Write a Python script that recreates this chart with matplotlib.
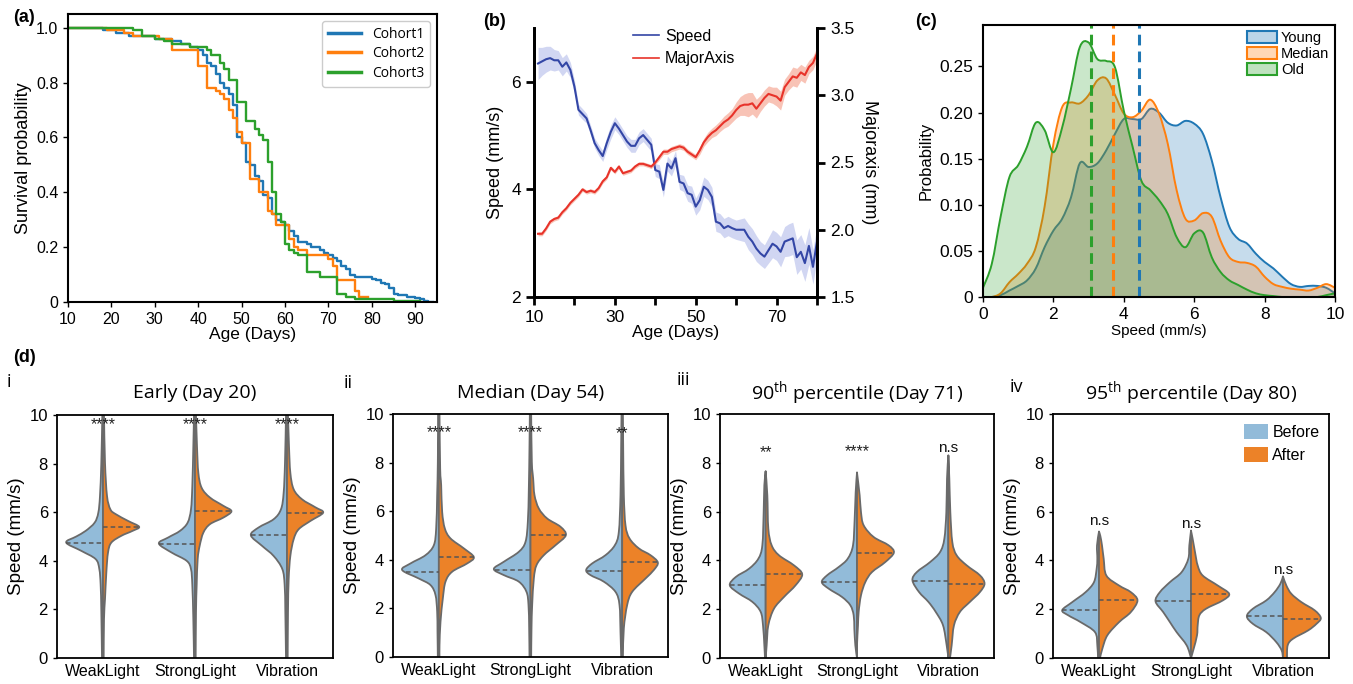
import numpy as np
import matplotlib
matplotlib.use("Agg")
import matplotlib.pyplot as plt
from matplotlib.path import Path
from matplotlib.patches import PathPatch, Patch
from matplotlib.lines import Line2D

plt.rcParams['font.family'] = ['Liberation Sans', 'DejaVu Sans']
plt.rcParams['mathtext.fontset'] = 'custom'
plt.rcParams['mathtext.rm'] = 'Open Sans'

# ---------------- (a) survival curves ----------------
c1_days = [10,18,21,24,30,34,36,38,40,41,42,43,44,45,46,47,48,49,50,51,52,53,54,55,56,57,58,59,60,61,62,63,65,66,68,69,70,71,72,73,74,75,76,80,81,82,83,84,85,86,88,90,91,92,93,94]
c1_surv = [1.0,0.99,0.98,0.97,0.96,0.95,0.94,0.93,0.92,0.90,0.87,0.86,0.83,0.80,0.78,0.76,0.72,0.60,0.58,0.51,0.50,0.46,0.44,0.39,0.38,0.32,0.30,0.29,0.28,0.26,0.24,0.22,0.21,0.20,0.19,0.18,0.17,0.16,0.15,0.13,0.12,0.10,0.09,0.085,0.08,0.07,0.065,0.05,0.03,0.025,0.02,0.015,0.01,0.005,0.0,0.0]
c2_days = [10,19,23,25,31,34,40,42,44,45,46,47,48,49,50,52,54,56,57,58,61,62,63,65,70,71,72,76,77,79]
c2_surv = [1.0,0.99,0.98,0.97,0.96,0.92,0.86,0.78,0.77,0.76,0.74,0.70,0.67,0.62,0.58,0.45,0.40,0.33,0.32,0.28,0.23,0.20,0.19,0.17,0.155,0.13,0.08,0.04,0.02,0.02]
c3_days = [10,25,27,30,32,34,38,42,43,45,46,47,49,51,53,54,55,56,57,58,59,60,61,62,63,65,68,72,74,76,85,91]
c3_surv = [1.0,0.99,0.97,0.96,0.95,0.94,0.93,0.92,0.90,0.87,0.85,0.81,0.73,0.66,0.63,0.61,0.59,0.51,0.40,0.32,0.29,0.21,0.19,0.18,0.17,0.11,0.09,0.03,0.02,0.01,0.005,0.005]
cohort_names = ['Cohort1', 'Cohort2', 'Cohort3']

# ---------------- (b) speed and major axis vs age ----------------
age_days = np.arange(11, 81)
speed_mean = [6.34,6.38,6.42,6.44,6.40,6.40,6.28,6.36,6.22,5.91,5.48,5.40,5.32,5.10,4.86,4.73,4.62,4.86,5.07,5.23,
              5.13,5.01,4.89,4.81,4.81,4.95,5.01,4.92,4.83,4.36,4.33,3.99,4.48,4.39,4.58,4.14,4.11,3.93,3.90,3.68,
              3.80,4.05,3.99,3.86,3.40,3.37,3.28,3.32,3.28,3.25,3.25,3.25,3.12,3.03,2.90,2.81,2.75,2.87,2.99,2.94,
              2.84,3.03,3.06,3.09,2.74,2.84,2.63,2.95,2.56,3.03]
speed_sem = [0.30,0.26,0.24,0.22,0.20,0.18,0.17,0.16,0.14,0.12,0.10,0.10,0.09,0.09,0.09,0.10,0.10,0.12,0.13,0.12,
             0.11,0.11,0.11,0.12,0.12,0.12,0.12,0.12,0.12,0.12,0.13,0.13,0.14,0.14,0.14,0.14,0.15,0.15,0.16,0.16,
             0.18,0.18,0.18,0.18,0.18,0.18,0.18,0.18,0.18,0.18,0.20,0.22,0.24,0.24,0.24,0.22,0.22,0.24,0.26,0.26,
             0.28,0.28,0.30,0.30,0.32,0.32,0.34,0.34,0.32,0.30]
major_mean = [1.97,1.97,2.01,2.06,2.08,2.09,2.13,2.16,2.20,2.23,2.26,2.30,2.28,2.29,2.28,2.31,2.36,2.39,2.46,2.43,
              2.47,2.42,2.43,2.44,2.47,2.49,2.49,2.48,2.47,2.50,2.54,2.58,2.58,2.60,2.61,2.62,2.61,2.58,2.56,2.54,
              2.59,2.65,2.69,2.72,2.74,2.77,2.80,2.82,2.85,2.89,2.92,2.93,2.93,2.94,2.90,2.94,2.98,3.01,3.00,2.99,
              2.96,3.06,3.10,3.14,3.13,3.17,3.15,3.21,3.24,3.31]
major_sem = [0.015,0.015,0.015,0.015,0.015,0.015,0.015,0.015,0.015,0.015,
             0.015,0.015,0.015,0.015,0.015,0.015,0.015,0.015,0.015,0.015,
             0.015,0.015,0.015,0.015,0.015,0.015,0.015,0.015,0.015,0.015,
             0.02,0.02,0.02,0.02,0.02,0.02,0.02,0.02,0.02,0.02,
             0.03,0.03,0.035,0.035,0.04,0.04,0.045,0.05,0.05,0.06,
             0.07,0.08,0.09,0.08,0.07,0.06,0.06,0.06,0.06,0.07,
             0.07,0.06,0.06,0.07,0.07,0.06,0.06,0.05,0.05,0.05]

# ---------------- (c) speed distributions ----------------
speed_grid = np.arange(0, 10.001, 0.25)
young_density = [0,0,0.002,0.007,0.012,0.018,0.031,0.054,0.072,0.085,0.108,0.145,0.141,0.145,0.159,0.177,0.193,0.193,0.193,0.204,
                 0.200,0.189,0.186,0.191,0.188,0.177,0.148,0.108,0.076,0.063,0.058,0.047,0.038,0.031,0.022,0.014,0.011,0.012,0.012,0.010,0.004]
median_density = [0,0,0.004,0.016,0.025,0.036,0.054,0.098,0.166,0.206,0.211,0.210,0.219,0.235,0.237,0.219,0.199,0.195,0.202,0.214,
                  0.199,0.166,0.116,0.085,0.083,0.091,0.087,0.061,0.043,0.038,0.037,0.033,0.022,0.014,0.011,0.009,0.008,0.007,0.010,0.014,0.010]
old_density = [0.010,0.036,0.087,0.130,0.143,0.163,0.189,0.181,0.157,0.184,0.226,0.271,0.276,0.258,0.256,0.249,0.202,0.163,0.126,0.116,
               0.105,0.090,0.065,0.054,0.069,0.070,0.043,0.027,0.018,0.013,0.008,0.004,0.002,0.001,0,0,0,0,0,0.002,0.004]
group_names = ['Young', 'Median', 'Old']
group_means = [4.43, 3.70, 3.06]

# ---------------- (d) split violins: (speed, half-width) profiles ----------------
stimuli = ['WeakLight', 'StrongLight', 'Vibration']

i_weak_before = [(0,3),(1.9,5),(3.0,7),(3.66,11),(4.07,22),(4.41,65),(4.75,110),(5.0,80),(5.23,52),(5.57,25),(5.98,14),(6.67,9),(8.03,5),(10,2)]
i_weak_after = [(0,2),(1.6,3),(2.43,6),(3.52,10),(4.34,15),(4.75,25),(5.03,55),(5.23,88),(5.40,108),(5.64,75),(5.92,38),(6.12,22),(6.67,12),(8.03,6),(10,3)]
i_strong_before = [(0,3),(1.6,5),(3.0,8),(3.66,12),(4.0,25),(4.34,70),(4.71,108),(4.96,80),(5.23,45),(5.57,22),(6.12,12),(7.08,8),(8.7,5),(10,3)]
i_strong_after = [(0,2),(1.9,3),(3.0,5),(4.07,8),(4.62,14),(5.16,25),(5.51,45),(5.78,85),(6.04,109),(6.26,85),(6.6,45),(7.0,20),(7.62,10),(8.7,6),(10,3)]
i_vib_before = [(0,3),(1.9,5),(3.0,7),(3.66,14),(4.2,40),(4.62,75),(5.05,108),(5.37,85),(5.71,40),(6.12,18),(6.8,10),(8.03,6),(10,3)]
i_vib_after = [(0,2),(1.9,3),(3.25,5),(4.2,10),(4.89,20),(5.3,35),(5.64,70),(5.98,108),(6.2,85),(6.53,45),(6.94,20),(7.62,10),(8.7,6),(10,3)]
i_median_before = [4.75, 4.71, 5.05]
i_median_after = [5.40, 6.04, 5.98]
i_signif = ['****', '****', '****']

ii_weak_before = [(0,3),(1.04,4),(1.86,5),(2.55,10),(2.96,25),(3.23,60),(3.58,110),(3.85,85),(4.19,40),(4.6,15),(5.29,8),(6.66,5),(8.03,3),(10,2)]
ii_weak_after = [(0,2),(0.49,2),(1.45,5),(2.41,12),(3.1,20),(3.51,40),(3.85,85),(4.11,105),(4.47,75),(4.88,35),(5.29,18),(5.97,10),(7.07,7),(7.75,4),(10,2)]
ii_strong_before = [(0,3),(1.18,4),(2.14,6),(2.68,12),(3.1,35),(3.37,80),(3.62,110),(3.92,80),(4.33,35),(4.74,15),(5.56,8),(6.93,5),(8.71,3),(10,2)]
ii_strong_after = [(0,2),(1.18,3),(2.14,5),(3.23,10),(3.78,18),(4.19,40),(4.6,75),(5.01,106),(5.36,90),(5.7,50),(6.11,25),(6.66,12),(7.34,8),(8.03,4),(10,2)]
ii_vib_before = [(0,3),(1.04,5),(2.14,8),(2.68,20),(3.1,55),(3.37,95),(3.58,108),(3.85,90),(4.19,50),(4.6,22),(5.15,10),(6.66,5),(8.71,3),(10,2)]
ii_vib_after = [(0,2),(1.18,5),(2.14,15),(2.68,30),(3.23,70),(3.58,95),(3.89,107),(4.19,85),(4.47,50),(4.88,22),(5.42,10),(6.66,5),(8.71,3),(10,2)]
ii_median_before = [3.51, 3.60, 3.55]
ii_median_after = [4.11, 5.01, 3.89]
ii_signif = ['****', '****', '**']

iii_weak_before = [(0,2),(0.52,4),(1.34,8),(1.89,15),(2.3,40),(2.64,80),(2.98,108),(3.32,90),(3.66,50),(4.07,22),(4.62,10),(5.98,6),(7.08,4),(7.65,0)]
iii_weak_after = [(0,0),(0.52,3),(1.34,8),(2.02,25),(2.5,55),(2.98,90),(3.43,110),(3.8,85),(4.21,40),(4.62,18),(5.3,8),(6.67,5),(7.65,0)]
iii_strong_before = [(0,0),(0.52,5),(1.2,8),(1.75,10),(2.16,20),(2.5,45),(2.84,85),(3.11,106),(3.39,90),(3.73,55),(4.07,28),(4.62,12),(5.71,7),(6.8,4),(7.6,0)]
iii_strong_after = [(0,0),(0.52,0),(1.34,3),(1.89,5),(2.57,12),(3.11,25),(3.52,45),(3.93,85),(4.32,111),(4.62,95),(4.96,50),(5.44,20),(5.98,12),(6.67,8),(7.6,0)]
iii_vib_before = [(0,0),(0.52,5),(1.34,16),(1.89,38),(2.3,60),(2.7,88),(3.18,108),(3.52,95),(3.93,55),(4.34,25),(4.89,12),(5.98,6),(7.35,4),(8.3,0)]
iii_vib_after = [(0,5),(0.52,10),(1.34,17),(1.89,35),(2.3,65),(2.7,95),(3.05,109),(3.39,95),(3.8,55),(4.21,25),(4.75,12),(5.98,6),(7.35,3),(8.3,0)]
iii_median_before = [2.98, 3.11, 3.16]
iii_median_after = [3.43, 4.32, 3.02]
iii_signif = ['**', '****', 'n.s']

iv_weak_before = [(0,3),(0.52,5),(1.06,12),(1.47,55),(1.75,92),(1.96,110),(2.29,80),(2.7,40),(3.11,15),(3.66,7),(4.07,5),(4.61,6),(5.18,0)]
iv_weak_after = [(0,3),(0.38,10),(0.93,25),(1.47,60),(1.88,95),(2.36,115),(2.7,95),(2.97,60),(3.38,22),(4.07,14),(4.61,9),(5.0,4),(5.18,0)]
iv_strong_before = [(0,0),(0.52,13),(1.06,43),(1.47,63),(1.88,83),(2.32,106),(2.7,93),(3.11,63),(3.52,28),(4.07,8),(4.61,5),(5.22,0)]
iv_strong_after = [(0,0),(0.38,8),(0.93,18),(1.34,20),(1.75,25),(2.02,45),(2.36,95),(2.63,114),(2.97,80),(3.38,35),(3.79,20),(4.34,12),(4.88,5),(5.22,0)]
iv_vib_before = [(0,0),(0.31,4),(0.65,20),(1.06,50),(1.4,90),(1.71,108),(2.02,90),(2.36,50),(2.7,25),(3.04,8),(3.34,0)]
iv_vib_after = [(0,12),(0.52,14),(0.79,30),(1.13,75),(1.4,100),(1.64,113),(1.95,95),(2.29,55),(2.63,25),(2.97,10),(3.34,0)]
iv_median_before = [1.96, 2.32, 1.71]
iv_median_after = [2.36, 2.63, 1.61]
iv_signif = ['n.s', 'n.s', 'n.s']

# ======================= drawing =======================
W, H = 1353, 684
fig = plt.figure(figsize=(W / 100, H / 100), dpi=100)


def px_axes(l, t, r, b):
    return fig.add_axes([l / W, 1 - b / H, (r - l) / W, (b - t) / H])


def fig_text(x, y, s, **kw):
    fig.text(x / W, 1 - y / H, s, **kw)


def smooth_segments(pts):
    """Catmull-Rom curve through pts expressed as cubic Bezier segments."""
    pts = np.asarray(pts, float)
    n = len(pts)
    verts, codes = [], []
    for k in range(n - 1):
        p0 = pts[k - 1] if k > 0 else pts[k]
        p1 = pts[k]
        p2 = pts[k + 1]
        p3 = pts[k + 2] if k + 2 < n else pts[k + 1]
        verts += [tuple(p1 + (p2 - p0) / 6.0), tuple(p2 - (p3 - p1) / 6.0), tuple(p2)]
        codes += [Path.CURVE4] * 3
    return verts, codes


TAB = ['#1f77b4', '#ff7f0e', '#2ca02c']

# ---- (a)
axa = px_axes(68, 14, 437, 302)
for d, s, c, n in zip([c1_days, c2_days, c3_days], [c1_surv, c2_surv, c3_surv], TAB, cohort_names):
    axa.step(d, s, where='post', color=c, lw=1.7, label=n)
axa.set_xlim(10, 95)
axa.set_ylim(0, 1.05)
axa.set_xticks(range(10, 91, 10))
axa.set_yticks([0, 0.2, 0.4, 0.6, 0.8, 1.0])
axa.set_yticklabels(['0', '0.2', '0.4', '0.6', '0.8', '1.0'])
axa.tick_params(labelsize=11.5, length=3.5, width=1)
axa.set_xlabel('Age (Days)', fontsize=12.5, labelpad=0)
axa.set_ylabel('Survival probability', fontsize=13, labelpad=3)
for sp in axa.spines.values():
    sp.set_linewidth(1.5)
leg = axa.legend(loc='upper right', handlelength=2.4, prop={'family': 'Open Sans', 'size': 10},
                 borderaxespad=0.5, framealpha=1, edgecolor='#cccccc', labelspacing=0.35)
for h in leg.get_lines():
    h.set_linewidth(2.5)
fig_text(24, 18, '(a)', fontsize=13, fontweight='bold', ha='center', va='center')

# ---- (b)
axb = px_axes(534, 28, 817, 297)
axb2 = axb.twinx()
sm = np.array(speed_mean); ss = np.array(speed_sem)
mm = np.array(major_mean); ms = np.array(major_sem)
axb.fill_between(age_days, sm - ss, sm + ss, color='#9aa5e3', alpha=0.45, lw=0)
axb.plot(age_days, sm, color='#3346a6', lw=1.5)
axb2.fill_between(age_days, mm - ms, mm + ms, color='#f3886f', alpha=0.5, lw=0)
axb2.plot(age_days, mm, color='#e8332a', lw=1.5)
axb.set_xlim(10, 80)
axb.set_ylim(2, 7)
axb2.set_ylim(1.5, 3.5)
axb.set_xticks(range(10, 81, 10))
axb.set_xticklabels(['10', '', '30', '', '50', '', '70', ''])
axb.set_yticks([2, 4, 6])
axb2.set_yticks([1.5, 2.0, 2.5, 3.0, 3.5])
for a in (axb, axb2):
    a.spines['top'].set_visible(False)
    for sp in ('left', 'bottom', 'right'):
        a.spines[sp].set_linewidth(2)
    a.tick_params(labelsize=12.5, length=6, width=2)
axb.set_xlabel('Age (Days)', fontsize=12.5, labelpad=0)
axb.set_ylabel('Speed (mm/s)', fontsize=13, labelpad=5)
axb2.set_ylabel('Majoraxis (mm)', fontsize=13, rotation=270, labelpad=17)
handles = [Line2D([], [], color='#3346a6', lw=1.2), Line2D([], [], color='#e8332a', lw=1.2)]
axb.legend(handles, ['Speed', 'MajorAxis'], loc='upper left', bbox_to_anchor=(0.3, 1.05), frameon=False,
           fontsize=11.5, handlelength=1.6, handletextpad=0.4, labelspacing=0.45)
fig_text(495, 22, '(b)', fontsize=13, fontweight='bold', ha='center', va='center')

# ---- (c)
axc = px_axes(983, 25, 1335, 297)
for dens, c, n in zip([young_density, median_density, old_density], TAB, group_names):
    pts = np.column_stack([speed_grid, dens])
    cv, cc = smooth_segments(pts)
    fill_path = Path([(speed_grid[0], 0), tuple(pts[0])] + cv + [(speed_grid[-1], 0), (speed_grid[0], 0)],
                     [Path.MOVETO, Path.LINETO] + cc + [Path.LINETO, Path.CLOSEPOLY])
    axc.add_patch(PathPatch(fill_path, facecolor=c, alpha=0.25, lw=0))
    line_path = Path([tuple(pts[0])] + cv, [Path.MOVETO] + cc)
    axc.add_patch(PathPatch(line_path, facecolor='none', edgecolor=c, lw=1.4))
for m, c in zip(group_means, TAB):
    axc.axvline(m, color=c, lw=2.2, ls=(0, (3.5, 2)))
axc.set_xlim(0, 10)
axc.set_ylim(0, 0.295)
axc.set_xticks(range(0, 11, 2))
axc.set_yticks([0, 0.05, 0.10, 0.15, 0.20, 0.25])
axc.set_yticklabels(['0', '0.05', '0.10', '0.15', '0.20', '0.25'])
axc.tick_params(labelsize=12.5, length=3.5, width=1)
axc.set_xlabel('Speed (mm/s)', fontsize=11, labelpad=2)
axc.set_ylabel('Probability', fontsize=12, labelpad=4)
for sp in axc.spines.values():
    sp.set_linewidth(1.5)
patches = [Patch(facecolor=matplotlib.colors.to_rgba(c, 0.3), edgecolor=c, lw=1.5) for c in TAB]
axc.legend(patches, group_names, loc='upper right', frameon=False, fontsize=10.5, handlelength=2.0,
           handleheight=0.9, handletextpad=0.3, labelspacing=0.15, borderaxespad=0.2, borderpad=0.2)
fig_text(926, 22, '(c)', fontsize=13, fontweight='bold', ha='center', va='center')

# ---- (d)
BEFORE_C = '#92bbd9'
AFTER_C = '#ec8228'
EDGE_C = '#6a6a6a'
WSCALE = 1 / 275.0


def half_violin(ax, center, profile, side, color):
    ys = np.array([p[0] for p in profile], float)
    ws = np.array([p[1] for p in profile], float) * WSCALE
    pts = np.column_stack([center + side * ws, ys])
    cv, cc = smooth_segments(pts)
    verts = [(center, ys[0]), tuple(pts[0])] + cv + [(center, ys[-1]), (center, ys[0])]
    codes = [Path.MOVETO, Path.LINETO] + cc + [Path.LINETO, Path.CLOSEPOLY]
    ax.add_patch(PathPatch(Path(verts, codes), facecolor=color, edgecolor=EDGE_C, lw=1.3, joinstyle='round'))
    return ys, ws


panels = [
    dict(box=(57, 415, 333, 658), before=[i_weak_before, i_strong_before, i_vib_before],
         after=[i_weak_after, i_strong_after, i_vib_after], mb=i_median_before, ma=i_median_after,
         sig=i_signif, sig_y=[9.6, 9.6, 9.6], title='Early (Day 20)', num='i', num_xy=(9, 382)),
    dict(box=(393, 414, 668, 657), before=[ii_weak_before, ii_strong_before, ii_vib_before],
         after=[ii_weak_after, ii_strong_after, ii_vib_after], mb=ii_median_before, ma=ii_median_after,
         sig=ii_signif, sig_y=[9.25, 9.25, 9.2], title='Median (Day 54)', num='ii', num_xy=(348, 383)),
    dict(box=(720, 414, 994, 658), before=[iii_weak_before, iii_strong_before, iii_vib_before],
         after=[iii_weak_after, iii_strong_after, iii_vib_after], mb=iii_median_before, ma=iii_median_after,
         sig=iii_signif, sig_y=[8.4, 8.45, 8.6], title=r'90$^{\mathrm{th}}$ percentile (Day 71)', num='iii',
         num_xy=(683, 380)),
    dict(box=(1053, 414, 1329, 658), before=[iv_weak_before, iv_strong_before, iv_vib_before],
         after=[iv_weak_after, iv_strong_after, iv_vib_after], mb=iv_median_before, ma=iv_median_after,
         sig=iv_signif, sig_y=[5.6, 5.5, 3.6], title=r'95$^{\mathrm{th}}$ percentile (Day 80)', num='iv',
         num_xy=(1016, 387)),
]

for pi, P in enumerate(panels):
    l, t, r, b = P['box']
    ax = px_axes(l, t, r, b)
    for k in range(3):
        ysb, wsb = half_violin(ax, k, P['before'][k], -1, BEFORE_C)
        ysa, wsa = half_violin(ax, k, P['after'][k], 1, AFTER_C)
        wb = np.interp(P['mb'][k], ysb, wsb)
        wa = np.interp(P['ma'][k], ysa, wsa)
        ax.plot([k - wb, k], [P['mb'][k]] * 2, color='#555555', lw=1.1, ls=(0, (3, 2)))
        ax.plot([k, k + wa], [P['ma'][k]] * 2, color='#555555', lw=1.1, ls=(0, (3, 2)))
        s = P['sig'][k]
        if s.startswith('*'):
            ax.text(k, P['sig_y'][k], s, ha='center', va='center', fontsize=11.5, color='#222222')
        else:
            ax.text(k, P['sig_y'][k], s, ha='center', va='center', fontsize=11, color='#111111')
    ax.set_xlim(-0.5, 2.5)
    ax.set_ylim(0, 10)
    ax.set_xticks([0, 1, 2])
    ax.set_xticklabels(stimuli)
    ax.set_yticks([0, 2, 4, 6, 8, 10])
    ax.tick_params(axis='x', length=0, labelsize=11.5, pad=4)
    ax.tick_params(axis='y', length=3, width=1, labelsize=12)
    ax.set_ylabel('Speed (mm/s)', fontsize=13.5, labelpad=3)
    for sp in ax.spines.values():
        sp.set_linewidth(1.3)
    fig_text((l + r) / 2, 393, P['title'], fontsize=14, family='Open Sans', ha='center', va='center')
    fig_text(P['num_xy'][0], P['num_xy'][1], P['num'], fontsize=13, family='Open Sans', ha='center', va='center')
    if pi == 3:
        lp = [Patch(facecolor=BEFORE_C, edgecolor='none'), Patch(facecolor=AFTER_C, edgecolor='none')]
        ax.legend(lp, ['Before', 'After'], loc='upper right', frameon=False, fontsize=11.5,
                  handlelength=1.5, handleheight=1.1, handletextpad=0.3, labelspacing=0.45, borderaxespad=0.2)

fig_text(24, 358, '(d)', fontsize=13, fontweight='bold', ha='center', va='center')

fig.savefig('out.png', dpi=100)
